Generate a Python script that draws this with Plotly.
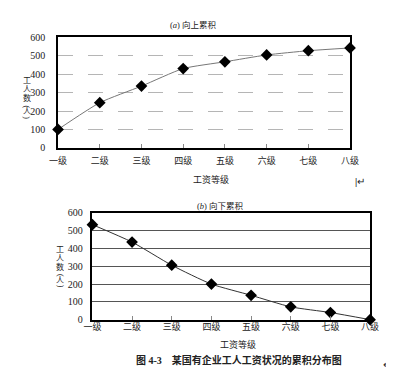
import plotly.graph_objects as go

grades = ["一级", "二级", "三级", "四级", "五级", "六级", "七级", "八级"]
upward = [100, 245, 335, 430, 467, 504, 527, 542]
downward = [534, 436, 306, 200, 137, 72, 40, 0]
y_ticks = [0, 100, 200, 300, 400, 500, 600]

W, H = 394, 372
FONT = "Liberation Serif, Noto Sans CJK SC, serif"

def px(x):
    return x / W

def py(y):
    return 1 - y / H

fig = go.Figure()

fig.add_trace(go.Scatter(
    x=grades, y=upward, mode="lines+markers", xaxis="x", yaxis="y",
    line=dict(color="#777", width=1, shape="spline", smoothing=0.6),
    marker=dict(symbol="diamond", size=9, color="black"),
    cliponaxis=False, showlegend=False))
fig.add_trace(go.Scatter(
    x=grades, y=downward, mode="lines+markers", xaxis="x2", yaxis="y2",
    line=dict(color="#333", width=1, shape="spline", smoothing=0.6),
    marker=dict(symbol="diamond", size=9, color="black"),
    cliponaxis=False, showlegend=False))

common_x = dict(type="category", range=[0, 7], showgrid=False,
                showline=True, linecolor="black", linewidth=1.5, mirror=True,
                ticks="inside", ticklen=4, tickcolor="#888",
                tickfont=dict(family=FONT, size=9, color="#222"), zeroline=False)
common_y = dict(range=[0, 600], tickvals=y_ticks, showline=True, linecolor="black",
                linewidth=1.5, mirror=True, ticks="", zeroline=False,
                tickfont=dict(family=FONT, size=10, color="#222"))

fig.update_layout(
    width=W, height=H, margin=dict(l=0, r=0, t=0, b=0),
    paper_bgcolor="white", plot_bgcolor="white",
    font=dict(family=FONT, color="#222"),
    xaxis=dict(domain=[px(43), px(349)], anchor="y", ticklabelstandoff=4, **common_x),
    yaxis=dict(domain=[py(139), py(25)], anchor="x", gridcolor="#b5b5b5",
               griddash="longdash", gridwidth=1, ticklabelstandoff=9, **common_y),
    xaxis2=dict(domain=[px(79), px(370)], anchor="y2", ticklabelstandoff=-2, **common_x),
    yaxis2=dict(domain=[py(316), py(206)], anchor="x2", gridcolor="#555",
                gridwidth=1, ticklabelstandoff=6, **common_y),
)

ann = []
def text(x, y, s, size=9, bold=False, angle=0):
    if bold:
        s = "<b>" + s + "</b>"
    ann.append(dict(x=px(x), y=py(y), xref="paper", yref="paper", text=s,
                    showarrow=False, xanchor="center", yanchor="middle",
                    textangle=angle,
                    font=dict(family=FONT, size=size, color="#222")))

text(185, 12, "(<i>a</i>) 向上累积", 8.5)
text(213, 199, "(<i>b</i>) 向下累积", 8.5)
text(203, 172, "工资等级", 9)
text(232, 342, "工资等级", 9)
text(233, 358, "图 4-3　某国有企业工人工资状况的累积分布图", 10, bold=True)
text(359, 174, "<b>|</b>↵", 10)
text(388, 362, "↵", 10)

for xx, y0 in [(10, 70), (45, 244)]:
    for ch, o in zip(["工", "人", "数"], [0, 9, 18]):
        text(xx, y0 + o, ch, 8)
    text(xx, y0 + 27, "(", 8, angle=90)
    text(xx, y0 + 32, "人", 8)
    text(xx, y0 + 38, ")", 8, angle=90)

fig.update_layout(annotations=ann)
fig.write_html("out.html")
